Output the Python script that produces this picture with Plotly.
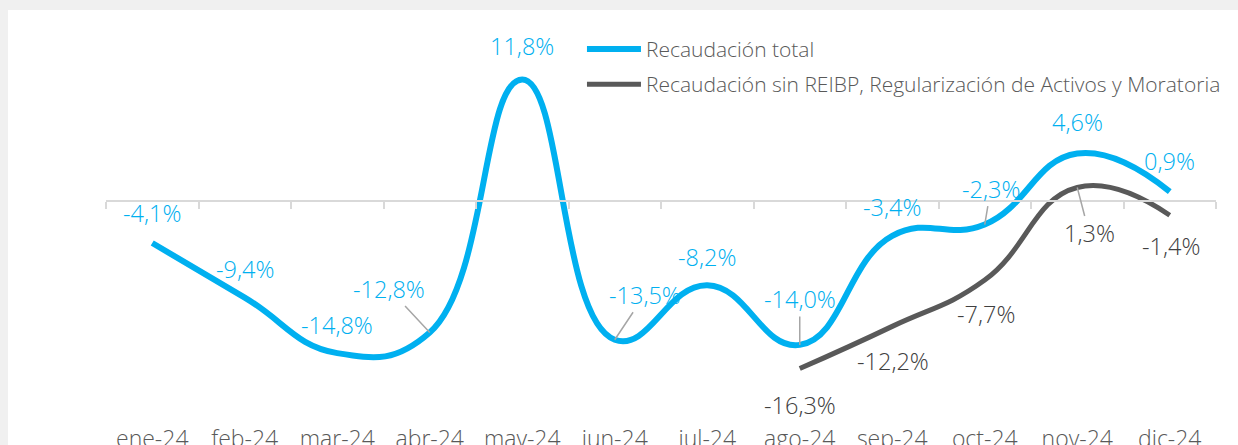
import plotly.graph_objects as go

# ── Data ────────────────────────────────────────────────────────────────────
meses = ["ene-24", "feb-24", "mar-24", "abr-24", "may-24", "jun-24",
         "jul-24", "ago-24", "sep-24", "oct-24", "nov-24", "dic-24"]

recaudacion_total = [-4.1, -9.4, -14.8, -12.8, 11.8, -13.5,
                     -8.2, -14.0, -3.4, -2.3, 4.6, 0.9]

recaudacion_sin_reibp = [None, None, None, None, None, None,
                         None, -16.3, -12.2, -7.7, 1.3, -1.4]

nombre_total = "Recaudación total"
nombre_sin = "Recaudación sin REIBP, Regularización de Activos y Moratoria"

# ── Style ───────────────────────────────────────────────────────────────────
AZUL = "#00B0F0"
GRIS_LINEA = "#595959"
GRIS_TEXTO = "#404040"
GRIS_EJE = "#D9D9D9"
GRIS_GUIA = "#A6A6A6"
FONT = "Open Sans, sans-serif"

# label offsets in px from the point (dx, dy screen-down, leader line?)
OFF_TOTAL = [(0, -30, False), (0, -29, False), (0, -28, False), (-41, -44, True),
             (0, -33, False), (30, -45, True), (0, -28, False), (0, -46, True),
             (0, -29, False), (6, -36, True), (0, -32, False), (0, -31, False)]
OFF_SIN = [None] * 7 + [(0, 36, False), (1, 35, False), (1, 34, False),
                        (12, 46, True), (1, 31, False)]

Y_MIN, Y_MAX = -21.3, 15.05
zero_pos = (0 - Y_MIN) / (Y_MAX - Y_MIN)


def fmt(v):
    return f"{v:.1f}".replace(".", ",") + "%"


fig = go.Figure()

fig.add_trace(go.Scatter(
    x=meses, y=recaudacion_total, name=nombre_total, mode="lines",
    line=dict(color=AZUL, width=6, shape="spline", smoothing=1.3),
    legendgroup="a",
))
fig.add_trace(go.Scatter(
    x=meses, y=recaudacion_sin_reibp, name=nombre_sin, mode="lines",
    line=dict(color=GRIS_LINEA, width=5, shape="spline", smoothing=1.3),
    legendgroup="b",
))
# carries the bottom category labels
fig.add_trace(go.Scatter(
    x=meses, y=[None] * len(meses), xaxis="x2", showlegend=False,
    hoverinfo="skip", mode="lines",
))

annotations = []
for serie, offs, color in [(recaudacion_total, OFF_TOTAL, AZUL),
                           (recaudacion_sin_reibp, OFF_SIN, GRIS_TEXTO)]:
    for mes, v, off in zip(meses, serie, offs):
        if v is None:
            continue
        dx, dy, leader = off
        a = dict(x=mes, y=v, xref="x", yref="y", text=fmt(v),
                 font=dict(family=FONT, size=23.5, color=color, weight=300))
        if leader:
            a.update(showarrow=True, ax=dx, ay=dy, arrowhead=0,
                     arrowwidth=1.5, arrowcolor=GRIS_GUIA, borderpad=1)
        else:
            a.update(showarrow=False, xshift=dx, yshift=-dy)
        annotations.append(a)

fig.update_layout(
    width=1238, height=445,
    margin=dict(l=106, r=22, t=46, b=25, autoexpand=False),
    paper_bgcolor="#F0F0F0",
    plot_bgcolor="white",
    font=dict(family=FONT, color=GRIS_LINEA),
    shapes=[dict(type="rect", xref="paper", yref="paper",
                 x0=-0.0883, x1=1.1, y0=-0.2, y1=1.0963,
                 fillcolor="white", line_width=0, layer="below")],
    xaxis=dict(
        type="category", categoryarray=meses, range=[-0.5, 11.5],
        anchor="free", position=zero_pos, automargin=False,
        showline=True, linecolor=GRIS_EJE, linewidth=2,
        ticks="outside", tickson="boundaries", ticklen=7, tickwidth=2,
        tickcolor=GRIS_EJE, showticklabels=False, showgrid=False,
        zeroline=False,
    ),
    xaxis2=dict(
        type="category", categoryarray=meses, range=[-0.5, 11.5],
        overlaying="x", anchor="y", side="bottom", automargin=False,
        showline=False, ticks="", showgrid=False, zeroline=False,
        tickfont=dict(family=FONT, size=23, color=GRIS_LINEA, weight=300),
        ticklabelstandoff=3,
    ),
    yaxis=dict(range=[Y_MIN, Y_MAX], visible=False, showgrid=False,
               zeroline=False, automargin=False),
    showlegend=True,
    legend=dict(
        x=0.4288, y=1.046, xanchor="left", yanchor="top",
        bgcolor="rgba(0,0,0,0)", tracegroupgap=5, itemwidth=54,
        font=dict(family=FONT, size=21, color=GRIS_LINEA, weight=300),
    ),
    annotations=annotations,
)

# drop the page's default body margin so the figure fills the window exactly
fig.write_html("out.html", config={"displayModeBar": False},
               post_script="document.body.style.margin='0';"
                           "document.body.style.overflow='hidden';")
